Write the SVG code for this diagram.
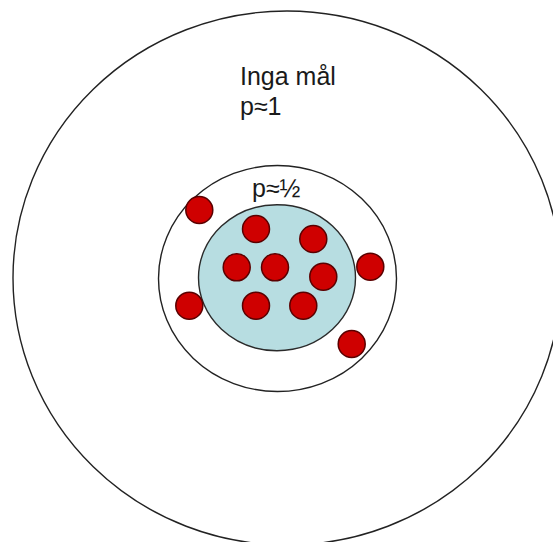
<svg xmlns="http://www.w3.org/2000/svg" width="553" height="542" viewBox="0 0 553 542">
<style>
.ring{fill:none;stroke:#222;stroke-width:1.4}
.core{fill:#b7dde1;stroke:#2a2a2a;stroke-width:1.4}
.dot{fill:#cf0000;stroke:#5a0000;stroke-width:1.5}
.lbl{font-family:"Liberation Sans",Arial,sans-serif;font-size:25px;fill:#1a1a1a}
</style>
<rect width="553" height="542" fill="#fff"/>
<g id="outer">
<ellipse class="ring" cx="287" cy="278" rx="274" ry="267"/>
<text class="lbl" x="240" y="85">Inga mål</text>
<text class="lbl" x="240" y="115">p≈1</text>
</g>
<g id="middle">
<ellipse class="ring" cx="277.5" cy="278.5" rx="119" ry="113"/>
<text class="lbl" x="252" y="197">p≈½</text>
</g>
<g id="core">
<ellipse class="core" cx="277" cy="277.7" rx="78.5" ry="73"/>
</g>
<g id="connectors"/>
<g id="dots">
<circle class="dot" cx="199.3" cy="210" r="13.5"/>
<circle class="dot" cx="256" cy="229" r="13.5"/>
<circle class="dot" cx="313.3" cy="239" r="13.5"/>
<circle class="dot" cx="236.7" cy="267.3" r="13.5"/>
<circle class="dot" cx="275" cy="267.3" r="13.5"/>
<circle class="dot" cx="323.3" cy="276.7" r="13.5"/>
<circle class="dot" cx="370.3" cy="266.7" r="13.5"/>
<circle class="dot" cx="189.3" cy="305.7" r="13.5"/>
<circle class="dot" cx="256" cy="305.7" r="13.5"/>
<circle class="dot" cx="303.3" cy="305.7" r="13.5"/>
<circle class="dot" cx="351.7" cy="344" r="13.5"/>
</g>
</svg>
